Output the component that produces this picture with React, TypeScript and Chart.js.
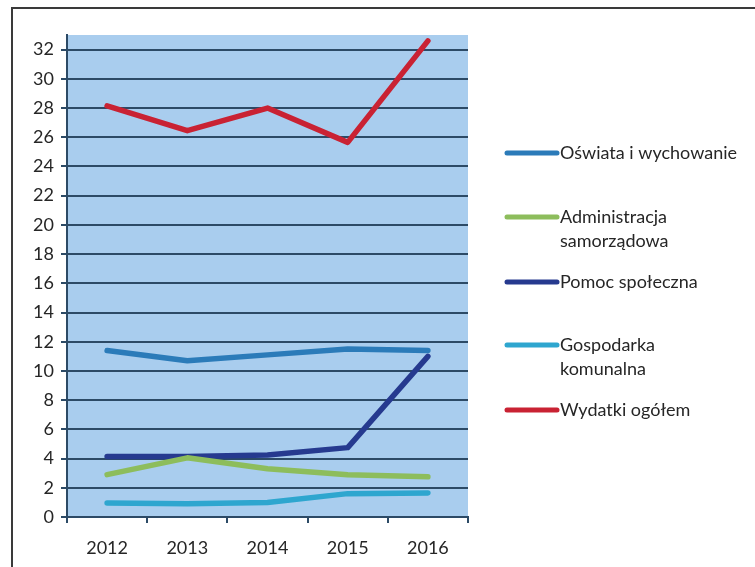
import React, { useEffect, useRef } from "react";
import { Chart, registerables } from "chart.js";

Chart.register(...registerables);

const years = ["2012", "2013", "2014", "2015", "2016"];
const yTickValues = [0, 2, 4, 6, 8, 10, 12, 14, 16, 18, 20, 22, 24, 26, 28, 30, 32];

const oswiata = [11.4, 10.7, 11.1, 11.5, 11.4];
const administracja = [2.9, 4.05, 3.3, 2.9, 2.75];
const pomoc = [4.15, 4.15, 4.25, 4.75, 11.0];
const gospodarka = [0.95, 0.9, 1.0, 1.6, 1.65];
const wydatki = [28.15, 26.45, 28.0, 25.65, 32.6];

const seriesLabels = [
  ["Oświata i wychowanie"],
  ["Administracja", "samorządowa"],
  ["Pomoc społeczna"],
  ["Gospodarka", "komunalna"],
  ["Wydatki ogółem"],
];
const seriesColors = ["#2b7bb9", "#8dbd5c", "#263a8f", "#2ea6cf", "#c92233"];
const legendRowY = [153, 217, 282, 345, 410];

const FONT = "Lato, 'Open Sans', sans-serif";
const GRID = "#2c4a66";

const decorPlugin = {
  id: "decor",
  beforeDraw(chart: any) {
    const { ctx, chartArea } = chart;
    ctx.save();
    ctx.fillStyle = "#ffffff";
    ctx.fillRect(0, 0, chart.width, chart.height);
    ctx.fillStyle = "#a9cdee";
    ctx.fillRect(chartArea.left, chartArea.top, chartArea.right - chartArea.left, chartArea.bottom - chartArea.top);
    // frame
    ctx.strokeStyle = "#3a3a3a";
    ctx.lineWidth = 2;
    ctx.beginPath();
    ctx.moveTo(12, chart.height);
    ctx.lineTo(12, 8);
    ctx.lineTo(chart.width, 8);
    ctx.stroke();
    ctx.restore();
  },
  afterDraw(chart: any) {
    const { ctx } = chart;
    ctx.save();
    chart.data.datasets.forEach((ds: any, i: number) => {
      const lines: string[] = (ds as any).legendLines;
      const y = legendRowY[i];
      ctx.strokeStyle = ds.borderColor;
      ctx.lineWidth = 5;
      ctx.lineCap = "round";
      ctx.beginPath();
      ctx.moveTo(507, y);
      ctx.lineTo(557, y);
      ctx.stroke();
      ctx.fillStyle = "#262626";
      ctx.font = `18px ${FONT}`;
      ctx.textBaseline = "middle";
      ctx.textAlign = "left";
      lines.forEach((t, j) => ctx.fillText(t, 560, y + j * 24));
    });
    ctx.restore();
  },
};

export default function App() {
  const ref = useRef<HTMLCanvasElement>(null);
  useEffect(() => {
    document.body.style.margin = "0";
    const values = [oswiata, administracja, pomoc, gospodarka, wydatki];
    const chart = new Chart(ref.current!, {
      type: "line",
      data: {
        labels: years,
        datasets: values.map((d, i) => ({
          label: seriesLabels[i].join(" "),
          legendLines: seriesLabels[i],
          data: d,
          borderColor: seriesColors[i],
          backgroundColor: seriesColors[i],
          borderWidth: 5.5,
          pointRadius: 0,
          tension: 0,
          borderCapStyle: "round",
          borderJoinStyle: "round",
        })) as any,
      },
      options: {
        animation: false,
        responsive: false,
        layout: { padding: { left: 12, right: 287, top: 35, bottom: 0 } },
        plugins: { legend: { display: false }, tooltip: { enabled: false }, title: { display: false } },
        scales: {
          x: {
            offset: true,
            grid: { drawOnChartArea: false, drawTicks: true, tickLength: 6, color: GRID, lineWidth: 2, offset: true },
            border: { color: GRID, width: 2 },
            ticks: { color: "#262626", font: { family: FONT, size: 18 }, padding: 14, maxRotation: 0 },
            afterFit: (s: any) => { s.height = 50; },
          },
          y: {
            min: 0,
            max: 33,
            grid: { color: GRID, lineWidth: 2, tickLength: 6, drawTicks: true },
            border: { color: GRID, width: 2 },
            ticks: { color: "#262626", font: { family: FONT, size: 18 }, padding: 7 },
            afterBuildTicks: (s: any) => { s.ticks = yTickValues.map((v) => ({ value: v })); },
            afterFit: (s: any) => { s.width = 55; },
          },
        },
      },
      plugins: [decorPlugin],
    });
    return () => chart.destroy();
  }, []);
  return (
    <div style={{ position: "absolute", left: 0, top: 0, width: 755, height: 567 }}>
      <canvas ref={ref} width={755} height={567} style={{ display: "block" }} />
    </div>
  );
}
